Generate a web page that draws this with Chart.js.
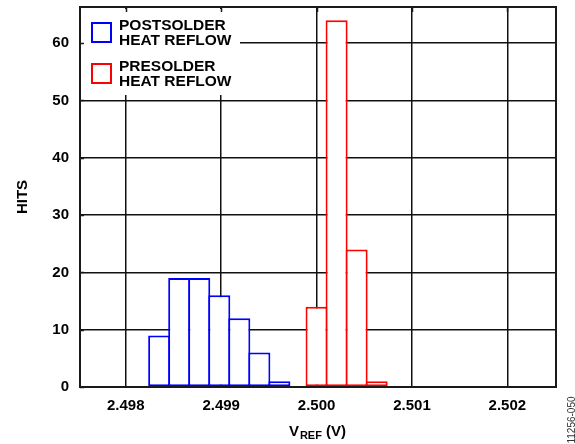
<!DOCTYPE html>
<html>
<head>
<meta charset="UTF-8">
<title>VREF Histogram</title>
<script src="https://cdn.jsdelivr.net/npm/chart.js"></script>
<style>
  html, body { margin: 0; padding: 0; background: #fff; }
</style>
</head>
<body>
<canvas id="vrefChart" width="575" height="444"></canvas>
<script>
// bin centres (V) and hit counts
const postVolts = [2.49835, 2.49856, 2.49877, 2.49898, 2.49919, 2.49940, 2.49961];
const postHits = [9, 19, 19, 16, 12, 6, 1];
const preVolts = [2.50000, 2.50021, 2.50042, 2.50063];
const preHits = [14, 64, 24, 1];
const xTicks = [2.498, 2.499, 2.500, 2.501, 2.502];
const yTicks = [0, 10, 20, 30, 40, 50, 60];
const legendLabels = [['POSTSOLDER', 'HEAT REFLOW'], ['PRESOLDER', 'HEAT REFLOW']];
const seriesColors = ['#0000ff', '#ff0000'];

const FONT = '"Liberation Sans", Arial, Helvetica, sans-serif';
Chart.defaults.font.family = FONT;
Chart.defaults.color = '#000';

const toPoints = (xs, ys) => xs.map((x, i) => ({ x: x, y: ys[i] }));

const overlay = {
  id: 'overlay',
  afterDatasetsDraw(chart) {
    const { ctx, chartArea: a } = chart;
    ctx.save();
    // legend background covers the grid
    ctx.fillStyle = '#fff';
    ctx.fillRect(a.left + 1, a.top + 2, 159, 86);

    // frame
    ctx.strokeStyle = '#1a1a1a';
    ctx.lineWidth = 2;
    ctx.strokeRect(a.left, a.top, a.right - a.left, a.bottom - a.top);

    // inner ticks on top and left
    ctx.lineWidth = 1.5;
    ctx.beginPath();
    const xs = chart.scales.x, ys = chart.scales.y;
    xTicks.forEach(v => {
      const px = Math.round(xs.getPixelForValue(v)) + 0.5;
      ctx.moveTo(px, a.top); ctx.lineTo(px, a.top + 5);
    });
    yTicks.forEach(v => {
      const py = Math.round(ys.getPixelForValue(v)) + 0.5;
      ctx.moveTo(a.left, py); ctx.lineTo(a.left + 4, py);
    });
    ctx.stroke();

    // legend
    ctx.lineWidth = 2;
    ctx.font = 'bold 15.5px ' + FONT;
    ctx.fillStyle = '#000';
    ctx.textBaseline = 'alphabetic';
    ctx.textAlign = 'left';
    const rows = [a.top + 16, a.top + 57];
    legendLabels.forEach((lines, i) => {
      ctx.strokeStyle = seriesColors[i];
      ctx.strokeRect(a.left + 12, rows[i], 19, 19);
      ctx.fillText(lines[0], a.left + 39, rows[i] + 6.5);
      ctx.fillText(lines[1], a.left + 39, rows[i] + 22);
    });
    ctx.restore();
  },
  afterDraw(chart) {
    const { ctx, chartArea: a } = chart;
    ctx.save();
    ctx.fillStyle = '#000';
    ctx.textBaseline = 'alphabetic';
    ctx.textAlign = 'left';
    const big = 'bold 15px ' + FONT, small = 'bold 11px ' + FONT;
    ctx.font = big; const w1 = ctx.measureText('V').width;
    ctx.font = small; const w2 = ctx.measureText('REF').width;
    ctx.font = big; const w3 = ctx.measureText(' (V)').width;
    let x = (a.left + a.right) / 2 - (w1 + w2 + w3) / 2 - 1;
    const base = 436;
    ctx.font = big; ctx.fillText('V', x, base); x += w1 + 1;
    ctx.font = small; ctx.fillText('REF', x, base + 3); x += w2;
    ctx.font = big; ctx.fillText(' (V)', x, base);

    // figure id, rotated on the right edge
    ctx.translate(572, 420);
    ctx.rotate(-Math.PI / 2);
    ctx.textAlign = 'center';
    ctx.textBaseline = 'middle';
    ctx.font = '10px ' + FONT;
    ctx.fillStyle = '#333';
    ctx.fillText('11256-050', 0, 0);
    ctx.restore();
  }
};

const barStyle = {
  backgroundColor: '#fff',
  borderWidth: 2,
  borderSkipped: false,
  grouped: false,
  barPercentage: 1.1,
  categoryPercentage: 1
};

new Chart(document.getElementById('vrefChart'), {
  type: 'bar',
  data: {
    datasets: [
      Object.assign({ label: 'POSTSOLDER HEAT REFLOW', data: toPoints(postVolts, postHits), borderColor: seriesColors[0] }, barStyle),
      Object.assign({ label: 'PRESOLDER HEAT REFLOW', data: toPoints(preVolts, preHits), borderColor: seriesColors[1] }, barStyle)
    ]
  },
  options: {
    responsive: false,
    animation: false,
    layout: { padding: { top: 7, right: 19, left: 0, bottom: 0 } },
    plugins: { legend: { display: false }, tooltip: { enabled: false } },
    scales: {
      x: {
        type: 'linear',
        min: 2.49752,
        max: 2.50251,
        offset: false,
        grid: { color: '#111', lineWidth: 1.5, drawTicks: false, offset: false },
        border: { display: false },
        ticks: { padding: 10, font: { size: 15, weight: 'bold' }, callback: v => v.toFixed(3) },
        afterBuildTicks: s => { s.ticks = xTicks.map(v => ({ value: v })); },
        afterFit: s => { s.height = 57; s.paddingLeft = 0; s.paddingRight = 0; }
      },
      y: {
        min: 0,
        max: 66.3,
        grid: { color: '#111', lineWidth: 1.5, drawTicks: false },
        border: { display: false },
        ticks: { padding: 11, font: { size: 15, weight: 'bold' } },
        afterBuildTicks: s => { s.ticks = yTicks.map(v => ({ value: v })); },
        afterFit: s => { s.width = 80; s.paddingTop = 0; s.paddingBottom = 0; },
        title: { display: true, text: 'HITS', font: { size: 15, weight: 'bold' }, padding: { top: 14, bottom: 0 } }
      }
    }
  },
  plugins: [overlay]
});
</script>
</body>
</html>
